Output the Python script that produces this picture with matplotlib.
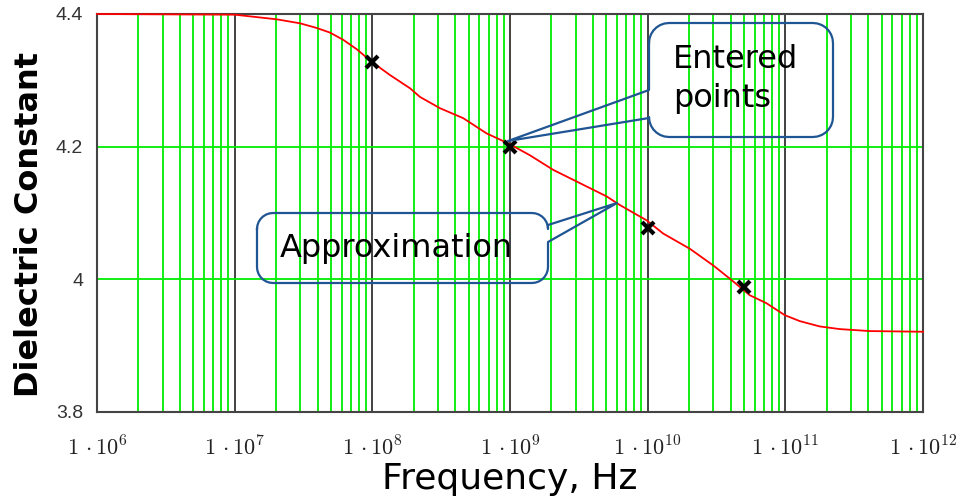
import numpy as np
import matplotlib
matplotlib.use('Agg')
import matplotlib.pyplot as plt
from matplotlib.lines import Line2D
from matplotlib.ticker import FixedLocator, NullFormatter

plt.rcParams['mathtext.fontset'] = 'cm'

# approximation curve, log10 of frequency
log_freq_curve = [6.0, 7.0, 7.305, 7.474, 7.595, 7.692, 7.789, 7.886, 7.995, 8.128,
                  8.274, 8.346, 8.491, 8.660, 8.830, 8.987, 9.145, 9.314, 9.508, 9.702,
                  9.798, 9.992, 10.113, 10.307, 10.476, 10.597, 10.742, 10.863, 10.996,
                  11.105, 11.250, 11.395, 11.613, 12.0]
eps_curve = [4.400, 4.399, 4.392, 4.386, 4.379, 4.372, 4.361, 4.347, 4.328, 4.308,
             4.288, 4.275, 4.258, 4.243, 4.220, 4.205, 4.187, 4.165, 4.145, 4.125,
             4.112, 4.089, 4.069, 4.046, 4.021, 4.001, 3.976, 3.964, 3.946,
             3.937, 3.929, 3.925, 3.922, 3.921]
freq_curve = np.power(10.0, log_freq_curve)

# entered points
freq_pts = [1e8, 1e9, 1e10, 5e10]
eps_pts = [4.328, 4.200, 4.077, 3.989]

x_ticks = [1e6, 1e7, 1e8, 1e9, 1e10, 1e11, 1e12]
y_ticks = [3.8, 4.0, 4.2, 4.4]
y_labels = ['3.8', '4', '4.2', '4.4']

W, H = 957, 499
fig = plt.figure(figsize=(W / 100, H / 100), dpi=100)
ax = fig.add_axes([97 / W, 1 - 412 / H, (923 - 97) / W, (412 - 14) / H])

ax.set_xscale('log')
ax.set_xlim(1e6, 1e12)
ax.set_ylim(3.8, 4.4)

# grid: green minor verticals, dark decade lines, green horizontals
minor = [m * 10.0 ** d for d in range(6, 12) for m in range(2, 10)]
for xv in minor:
    ax.axvline(xv, color='#00ee00', lw=1.3, zorder=1)
for xv in x_ticks[1:-1]:
    ax.axvline(xv, color='#333333', lw=1.3, zorder=1)
for yv in y_ticks[1:-1]:
    ax.axhline(yv, color='#00ee00', lw=1.3, zorder=1)

ax.plot(freq_curve, eps_curve, color='#ff0000', lw=1.3, zorder=3, clip_on=False)
ax.plot(freq_pts, eps_pts, linestyle='none', marker='x', color='black',
        markersize=9, markeredgewidth=3, zorder=4)

for s in ax.spines.values():
    s.set_color('#444444')
    s.set_linewidth(1.5)

ax.xaxis.set_major_locator(FixedLocator(x_ticks))
ax.xaxis.set_minor_locator(FixedLocator([]))
ax.xaxis.set_minor_formatter(NullFormatter())
ax.set_xticklabels([r'$1\,\cdot10^{%d}$' % int(np.log10(v)) for v in x_ticks])
ax.set_yticks(y_ticks)
ax.set_yticklabels(y_labels)
ax.tick_params(axis='x', length=0, pad=17)
ax.tick_params(axis='y', length=0, pad=10)
for lab in ax.get_xticklabels():
    lab.set_fontsize(16)
    lab.set_color('#222222')
for lab in ax.get_yticklabels():
    lab.set_fontsize(14)
    lab.set_color('#333333')
    lab.set_family('Liberation Sans')

ax.set_xlabel('Frequency, Hz', fontsize=26)
ax.xaxis.set_label_coords(0.5, -0.125)
ax.set_ylabel('Dielectric Constant', fontsize=23, fontweight='bold')
ax.yaxis.set_label_coords(-0.063, 0.472)


def px(x, y):
    return x / W, 1 - y / H


def callout(x0, y0, x1, y1, r, side, wy0, wy1, tip):
    # rounded box drawn in pixel coords, with a wedge pointing to tip
    pts = []
    n = 8
    def arc(cx, cy, a0, a1):
        for t in np.linspace(a0, a1, n):
            pts.append((cx + r * np.cos(t), cy + r * np.sin(t)))
    arc(x0 + r, y0 + r, np.pi, 1.5 * np.pi)
    arc(x1 - r, y0 + r, 1.5 * np.pi, 2 * np.pi)
    if side == 'right':
        pts += [(x1, wy0), tip, (x1, wy1)]
    arc(x1 - r, y1 - r, 0, 0.5 * np.pi)
    arc(x0 + r, y1 - r, 0.5 * np.pi, np.pi)
    if side == 'left':
        pts += [(x0, wy1), tip, (x0, wy0)]
    pts.append(pts[0])
    xs, ys = zip(*[px(a, b) for a, b in pts])
    fig.add_artist(Line2D(xs, ys, color='#1f5592', lw=1.6, transform=fig.transFigure, zorder=5))


callout(649, 23, 833, 137, 20, 'left', 90, 118, (508, 141))
callout(257, 213, 548, 283, 16, 'right', 225, 242, (617, 203))

fig.text(*px(673, 60), 'Entered', fontsize=23, va='center', ha='left')
fig.text(*px(673, 98), 'points', fontsize=23, va='center', ha='left')
fig.text(*px(280, 248), 'Approximation', fontsize=23, va='center', ha='left')

fig.savefig('out.png', dpi=100)
